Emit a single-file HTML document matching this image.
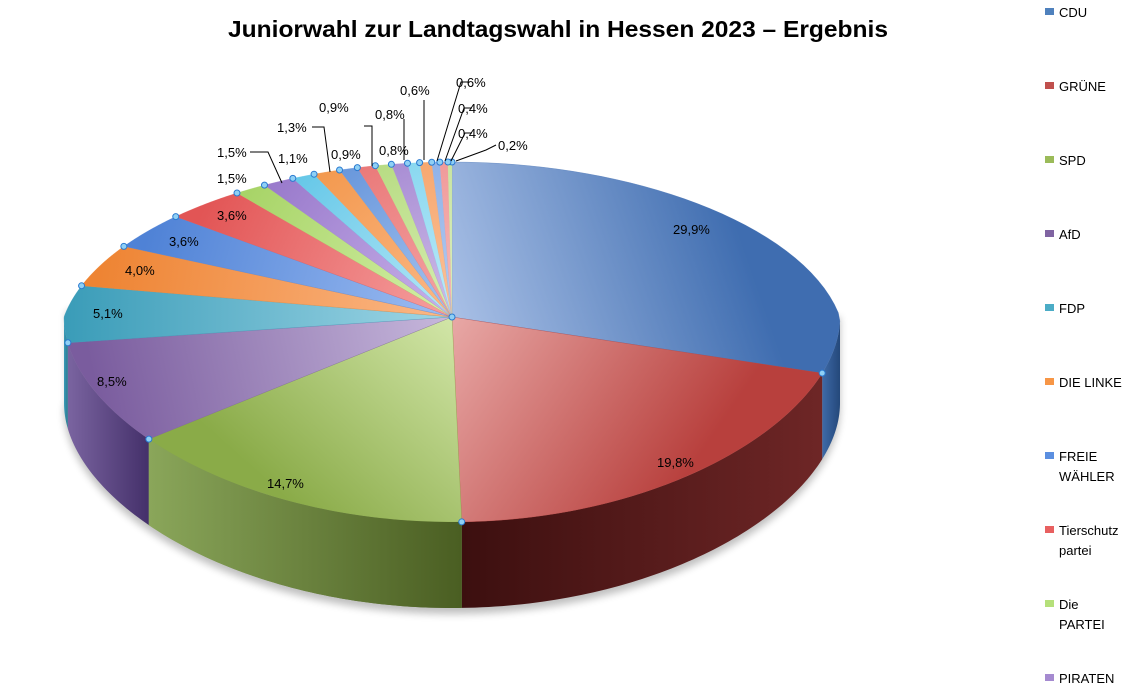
<!DOCTYPE html>
<html><head><meta charset="utf-8"><style>
html,body{margin:0;padding:0;background:#fff;width:1135px;height:698px;overflow:hidden}
svg text{font-family:"Liberation Sans",sans-serif}
</style></head><body>
<svg id="s" width="1135" height="698" viewBox="0 0 1135 698" xmlns="http://www.w3.org/2000/svg">
<defs>
<filter id="sh" x="-10%" y="-10%" width="120%" height="130%"><feGaussianBlur stdDeviation="4"/></filter>
</defs>
<text x="558" y="37" text-anchor="middle" font-size="23" font-weight="bold" textLength="660" lengthAdjust="spacingAndGlyphs" fill="#000">Juniorwahl zur Landtagswahl in Hessen 2023 – Ergebnis</text>
<g id="pie"></g>
<g id="lab" font-size="13" fill="#000"></g>
<g font-size="13" fill="#000">
<rect x="1045" y="8" width="9" height="7" fill="#4f81bd"/><text x="1059" y="17">CDU</text>
<rect x="1045" y="82" width="9" height="7" fill="#c0504d"/><text x="1059" y="91">GRÜNE</text>
<rect x="1045" y="156" width="9" height="7" fill="#9bbb59"/><text x="1059" y="165">SPD</text>
<rect x="1045" y="230" width="9" height="7" fill="#8064a2"/><text x="1059" y="239">AfD</text>
<rect x="1045" y="304" width="9" height="7" fill="#4bacc6"/><text x="1059" y="313">FDP</text>
<rect x="1045" y="378" width="9" height="7" fill="#f79646"/><text x="1059" y="387">DIE LINKE</text>
<rect x="1045" y="452" width="9" height="7" fill="#5b8fe0"/><text x="1059" y="461">FREIE</text><text x="1059" y="481">WÄHLER</text>
<rect x="1045" y="526" width="9" height="7" fill="#e86060"/><text x="1059" y="535">Tierschutz</text><text x="1059" y="555">partei</text>
<rect x="1045" y="600" width="9" height="7" fill="#b5e07a"/><text x="1059" y="609">Die</text><text x="1059" y="629">PARTEI</text>
<rect x="1045" y="674" width="9" height="7" fill="#a58ad0"/><text x="1059" y="683">PIRATEN</text>
</g>
</svg>
<script>
var NS="http://www.w3.org/2000/svg";
var vals=[29.9,19.8,14.7,8.5,5.1,4.0,3.6,3.6,1.5,1.5,1.1,1.3,0.9,0.9,0.8,0.8,0.6,0.6,0.4,0.4,0.2];
var top_=[["#a9c0e6","#3f6db0"],["#e8a8a6","#b8403d"],["#d2e6a8","#8aab48"],["#c7b8dc","#7a5c9e"],["#9fd6e6","#3a9cb8"],["#fbb887","#ee8433"],["#9dbdf2","#4f82d6"],["#f6a0a0","#e25555"],["#d4f0a8","#a8d468"],["#c9b2ea","#9a7bcc"],["#b8e8f7","#67c8e8"],["#fbb887","#f39a50"],["#a6c4ef","#6a98dc"],["#f4a6a6","#ea7a7a"],["#d7eeb2","#b8dc84"],["#cfbde8","#a98ed4"],["#bfeaf8","#8ad8f0"],["#fbc29a","#f7a870"],["#b6cdf0","#90b2e8"],["#f6bcbc","#f09a9a"],["#e0f0c8","#c8e4a0"]];
var side=[["#3e6aa8","#24487a"],["#6e2626","#3c0f0f"],["#8aa65a","#4a5e22"],["#7a64a0","#44306a"],["#3a9cb8","#2a7890"]];
var cx=452,cy=317,D=86;
function P(t,dy){var r=t*Math.PI/180;var c=Math.cos(r);var rx=388-65*Math.max(0,c);return [cx+rx*Math.sin(r),cy-(180-25*c)*c+(dy||0)];}
var tot=vals.reduce(function(a,b){return a+b},0);
var g=document.getElementById("pie");
function el(n,a){var e=document.createElementNS(NS,n);for(var k in a)e.setAttribute(k,a[k]);return e;}
var defs=document.querySelector("defs");
var sp="";for(var t=90;t<=272;t+=2){var p=P(t,D+6);sp+=(t==90?"M":"L")+p[0]+","+p[1];}
g.appendChild(el("path",{d:sp+"L"+P(272)[0]+","+P(272)[1]+"L"+P(90)[0]+","+P(90)[1]+"Z",fill:"#000",opacity:"0.25",filter:"url(#sh)"}));
var angs=[0],a=0;vals.forEach(function(v){a+=v/tot*360;angs.push(a);});
function wall(i,a1,a2){
 var d="";for(var t=a1;t<a2;t+=1){var p=P(t);d+=(d?"L":"M")+p[0]+","+p[1];}
 var p=P(a2);d+=(d?"L":"M")+p[0]+","+p[1];
 var d2="";for(var t=a2;t>a1;t-=1){var q=P(t,D);d2+="L"+q[0]+","+q[1];}
 var q=P(a1,D);d2+="L"+q[0]+","+q[1];
 g.appendChild(el("path",{d:d+d2+"Z",fill:"url(#sg"+i+")"}));
}
for(var i=0;i<5;i++){
 var a1=Math.max(angs[i],90),a2=Math.min(angs[i+1],270);if(a2<=a1)continue;
 var lg=el("linearGradient",{id:"sg"+i,x1:"0",y1:"0",x2:"1",y2:"0"});
 var c0=side[i][0],c1=side[i][1];
 lg.appendChild(el("stop",{offset:"0","stop-color":(i<2?c1:c0)}));
 lg.appendChild(el("stop",{offset:"1","stop-color":(i<2?c0:c1)}));
 if(i==0){lg.setAttribute("x1","1");lg.setAttribute("x2","0");}
 defs.appendChild(lg);
 wall(i,a1,a2);
}
var pa=P(angs[3]);
g.appendChild(el("path",{d:"M"+pa[0]+","+pa[1]+"L"+cx+","+cy+"L"+cx+","+(cy+D)+"L"+pa[0]+","+(pa[1]+D)+"Z",fill:"#7d9a4a"}));
for(var i=0;i<vals.length;i++){
 var id="tg"+i;var mid=(angs[i]+angs[i+1])/2;var pm=P(mid);
 var lg=el("linearGradient",{id:id,gradientUnits:"userSpaceOnUse",x1:cx,y1:cy,x2:pm[0],y2:pm[1]});
 lg.appendChild(el("stop",{offset:"0","stop-color":top_[i][0]}));
 lg.appendChild(el("stop",{offset:"1","stop-color":top_[i][1]}));
 defs.appendChild(lg);
 var d="M"+cx+","+cy;var st=Math.max(0.2,(angs[i+1]-angs[i])/40);
 for(var t=angs[i];t<angs[i+1];t+=st){var p=P(t);d+="L"+p[0]+","+p[1];}
 var p=P(angs[i+1]);d+="L"+p[0]+","+p[1]+"Z";
 g.appendChild(el("path",{d:d,fill:"url(#"+id+")",stroke:top_[i][1],"stroke-width":"0.3"}));
}
wall(2,angs[2],angs[3]);
function dot(x,y){g.appendChild(el("circle",{cx:x,cy:y,r:3,fill:"#8fd0f5",stroke:"#2a7ad0","stroke-width":"1"}));}
for(var i=0;i<angs.length-1;i++){var p=P(angs[i]);dot(p[0],p[1]);}
dot(cx,cy);
var L=[["29,9%",673,234],["19,8%",657,467],["14,7%",267,488],["8,5%",97,386],["5,1%",93,318],["4,0%",125,275],["3,6%",169,246],["3,6%",217,220],["1,5%",217,183],["1,5%",217,157],["1,1%",278,163],["1,3%",277,132],["0,9%",331,159],["0,9%",319,112],["0,8%",379,155],["0,8%",375,119],["0,6%",400,95],["0,6%",456,87],["0,4%",458,113],["0,4%",458,138],["0,2%",498,150]];
var lb=document.getElementById("lab");
L.forEach(function(l){var t=el("text",{x:l[1],y:l[2]});t.textContent=l[0];lb.appendChild(t);});
var lines=[[250,152,268,152,282,183],[312,127,324,127,330,172],[364,126,372,126,372,166],[404,119,404,160],[424,100,424,160],[470,82,461,82,437,161],[472,108,464,108,445,161],[472,133,465,133,451,161],[496,145,486,150,456,161]];
lines.forEach(function(l){var d="M"+l[0]+","+l[1];for(var k=2;k<l.length;k+=2)d+="L"+l[k]+","+l[k+1];lb.appendChild(el("path",{d:d,fill:"none",stroke:"#000","stroke-width":"1"}));});
</script>
</body></html>
